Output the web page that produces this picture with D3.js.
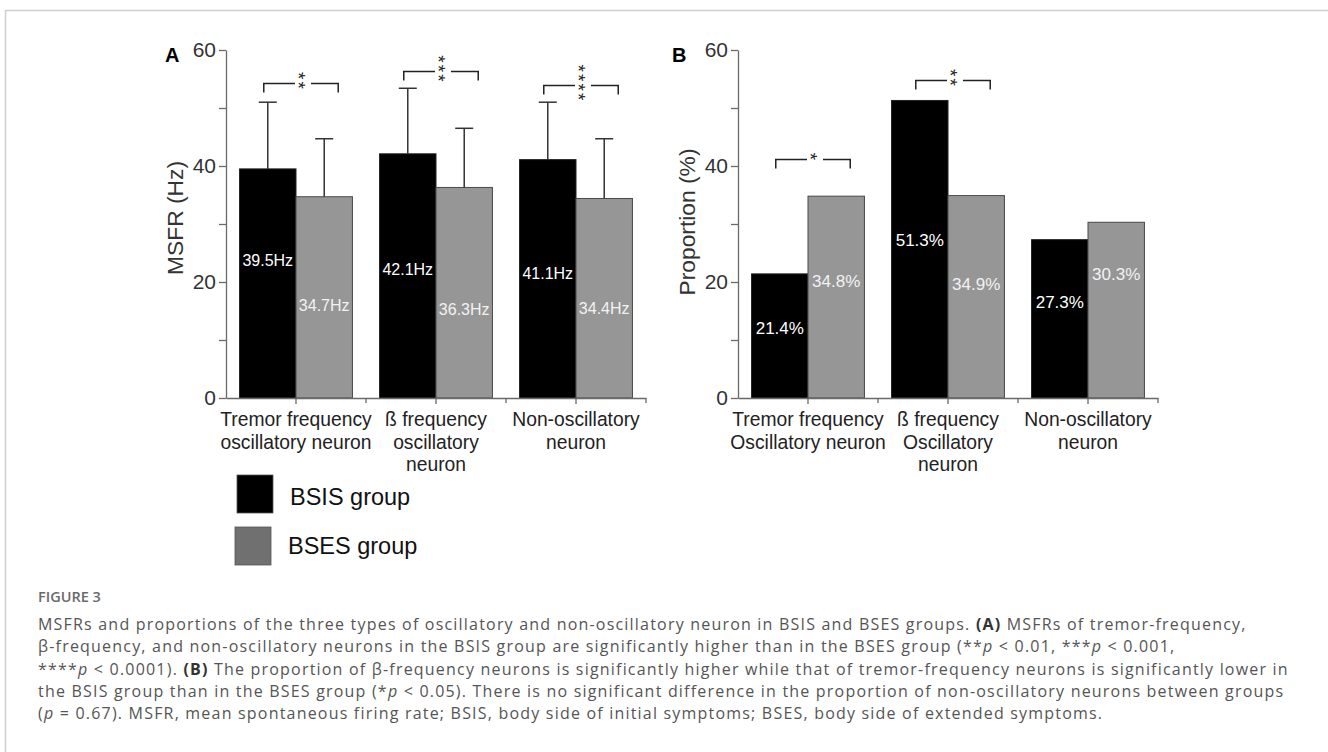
<!DOCTYPE html>
<html>
<head>
<meta charset="utf-8">
<script src="https://cdn.jsdelivr.net/npm/d3@7"></script>
<style>
  body { margin: 0; background: #fff; }
  svg { display: block; }
  .chart text { font-family: 'Liberation Sans', Arial, sans-serif; }
  .caption text { font-family: 'Open Sans', sans-serif; }
</style>
</head>
<body>
<div id="chart"></div>
<script>
// categories, two groups per category
let seriesNames = ['BSIS group', 'BSES group']
let catsA = [['Tremor frequency', 'oscillatory neuron'], ['ß frequency', 'oscillatory', 'neuron'], ['Non-oscillatory', 'neuron']]
let catsB = [['Tremor frequency', 'Oscillatory neuron'], ['ß frequency', 'Oscillatory', 'neuron'], ['Non-oscillatory', 'neuron']]

// panel A: MSFR (Hz), [BSIS, BSES] per category, with SD
let msfr = [[39.5, 34.7], [42.1, 36.3], [41.1, 34.4]]
let msfrSd = [[11.5, 10.0], [11.3, 10.2], [9.9, 10.3]]
let msfrLabels = [['39.5Hz', '34.7Hz'], ['42.1Hz', '36.3Hz'], ['41.1Hz', '34.4Hz']]
// where the value labels sit inside the bars (in axis units)
let msfrLabelAt = [[23.8, 15.9], [22.2, 15.2], [21.4, 15.5]]
// significance brackets: category, height (axis units), star count
let msfrSig = [[0, 54.3, 2], [1, 56.4, 3], [2, 54.0, 4]]

// panel B: proportion (%)
let prop = [[21.4, 34.8], [51.3, 34.9], [27.3, 30.3]]
let propLabels = [['21.4%', '34.8%'], ['51.3%', '34.9%'], ['27.3%', '30.3%']]
let propLabelAt = [[12.0, 20.1], [27.2, 19.6], [16.6, 21.3]]
let propSig = [[0, 41.2, 1], [1, 54.8, 2]]

let yTicks = [0, 10, 20, 30, 40, 50, 60]
let yTickLabels = [0, 20, 40, 60]

let svgWidth = 1328, svgHeight = 752
let fills = ['#000000', '#969696']
let strokes = ['#222', '#4a4a4a']
let legendFills = ['#000000', '#707070']

let svg = d3.select('#chart')
    .append('svg')
    .attr('width', svgWidth)
    .attr('height', svgHeight)

// page frame (left and top rule)
svg.append('path')
    .attr('d', `M5.5,${svgHeight} V10.5 H${svgWidth}`)
    .attr('fill', 'none')
    .attr('stroke', '#d0d0d0')
    .attr('stroke-width', 1.5)

let chartG = svg.append('g').attr('class', 'chart')

let y = d3.scaleLinear()
    .domain([0, 60])
    .range([398, 50])

function drawPanel(opts) {
    let g = chartG.append('g')
        .attr('transform', `translate(${opts.left},0)`)

    let idx = opts.values.map((d, i) => i)
    let x0 = d3.scaleBand()
        .domain(idx)
        .range([0, 420])
        .padding(0)
    let x1 = d3.scaleBand()
        .domain([0, 1])
        .range([0, x0.bandwidth()])
        .paddingInner(0)
        .paddingOuter(0.24)

    // bars
    let groups = g.selectAll('.grp')
        .data(opts.values)
        .enter().append('g')
        .attr('class', 'grp')
        .attr('transform', (d, i) => `translate(${x0(i)},0)`)

    groups.selectAll('rect')
        .data(d => d)
        .enter().append('rect')
        .attr('x', (d, j) => x1(j))
        .attr('y', d => y(d))
        .attr('width', x1.bandwidth())
        .attr('height', d => y(0) - y(d))
        .attr('fill', (d, j) => fills[j])
        .attr('stroke', (d, j) => strokes[j])
        .attr('stroke-width', 1)

    // error bars (upper only)
    if (opts.sd) {
        groups.each(function(d, i) {
            let gg = d3.select(this)
            d.forEach((v, j) => {
                let cx = x1(j) + x1.bandwidth() / 2
                let top = y(v + opts.sd[i][j])
                gg.append('line')
                    .attr('x1', cx).attr('x2', cx)
                    .attr('y1', y(v)).attr('y2', top)
                    .attr('stroke', '#333').attr('stroke-width', 1.5)
                gg.append('line')
                    .attr('x1', cx - 9).attr('x2', cx + 9)
                    .attr('y1', top).attr('y2', top)
                    .attr('stroke', '#333').attr('stroke-width', 1.5)
            })
        })
    }

    // value labels inside bars
    groups.each(function(d, i) {
        let gg = d3.select(this)
        d.forEach((v, j) => {
            gg.append('text')
                .attr('x', x1(j) + x1.bandwidth() / 2)
                .attr('y', y(opts.labelAt[i][j]))
                .attr('dy', '0.35em')
                .attr('text-anchor', 'middle')
                .attr('font-size', opts.labelSize)
                .attr('fill', j == 0 ? '#fff' : '#f2f2f2')
                .text(opts.labels[i][j])
        })
    })

    // significance brackets; the stars are one string turned on its side
    // so they stack vertically like in the figure
    opts.sig.forEach(s => {
        let cat = s[0], yy = Math.round(y(s[1])) + 0.5, n = s[2]
        let xa = x0(cat) + x1(0) + x1.bandwidth() / 2 - 4
        let xb = x0(cat) + x1(1) + x1.bandwidth() / 2 + 14
        let xs = (xa + xb) / 2 + 2
        let bg = g.append('g')
        bg.append('path')
            .attr('d', `M${xa},${yy + 9} V${yy} H${xs - 8} M${xs + 8},${yy} H${xb} V${yy + 9}`)
            .attr('fill', 'none')
            .attr('stroke', '#222')
            .attr('stroke-width', 1.5)
        bg.append('text')
            .attr('transform', `translate(${xs},${yy - 2}) rotate(90)`)
            .attr('text-anchor', 'middle')
            .attr('dy', '0.58em')
            .attr('font-size', 19)
            .attr('letter-spacing', 2.1)
            .attr('fill', '#222')
            .text('*'.repeat(n))
    })

    // y axis
    let yAxis = g.append('g')
        .attr('class', 'y-axis')
        .call(d3.axisLeft(y)
            .tickValues(yTicks)
            .tickSize(7)
            .tickSizeOuter(0)
            .tickPadding(3)
            .tickFormat(d => yTickLabels.includes(d) ? d : ''))
    yAxis.select('.domain').attr('stroke', '#6a6a6a').attr('stroke-width', 1.3)
    yAxis.selectAll('.tick line').attr('stroke', '#6a6a6a').attr('stroke-width', 1.3)
    yAxis.selectAll('.tick text')
        .attr('font-size', 21)
        .attr('fill', '#333')
        .attr('font-family', "'Liberation Sans', Arial, sans-serif")

    // x axis: ticks at pair centres plus category boundaries
    let xAxis = g.append('g')
        .attr('class', 'x-axis')
        .attr('transform', `translate(0,${y(0)})`)
        .call(d3.axisBottom(x0).tickSize(6).tickSizeOuter(0).tickFormat(''))
    xAxis.select('.domain').attr('stroke', '#6a6a6a').attr('stroke-width', 1.3)
    xAxis.selectAll('.tick line').attr('stroke', '#6a6a6a').attr('stroke-width', 1.3)
    idx.slice(1).concat([idx.length]).forEach(i => {
        let bx = i < idx.length ? x0(i) : x0.range()[1]
        xAxis.append('line')
            .attr('x1', bx).attr('x2', bx)
            .attr('y1', 0).attr('y2', 5)
            .attr('stroke', '#6a6a6a').attr('stroke-width', 1.3)
    })

    // multi-line category labels
    opts.cats.forEach((lines, i) => {
        let t = g.append('text')
            .attr('x', x0(i) + x0.bandwidth() / 2)
            .attr('y', 426)
            .attr('text-anchor', 'middle')
            .attr('font-size', 19.3)
            .attr('fill', '#222')
        lines.forEach((l, k) => {
            t.append('tspan')
                .attr('x', x0(i) + x0.bandwidth() / 2)
                .attr('dy', k == 0 ? 0 : 22.5)
                .text(l)
        })
    })

    // y axis title
    g.append('text')
        .attr('transform', `translate(${opts.titleX},${opts.titleY}) rotate(-90)`)
        .attr('dy', '0.35em')
        .attr('text-anchor', 'middle')
        .attr('font-size', 22.8)
        .attr('fill', '#333')
        .text(opts.title)

    // panel letter
    g.append('text')
        .attr('x', opts.letterX)
        .attr('y', 62)
        .attr('font-size', 20)
        .attr('font-weight', 'bold')
        .attr('fill', '#000')
        .text(opts.letter)
}

drawPanel({
    left: 226, values: msfr, sd: msfrSd, labels: msfrLabels, labelAt: msfrLabelAt,
    labelSize: 16, sig: msfrSig, cats: catsA, title: 'MSFR (Hz)',
    titleX: -51, titleY: 218, letter: 'A', letterX: -61
})
drawPanel({
    left: 738, values: prop, sd: null, labels: propLabels, labelAt: propLabelAt,
    labelSize: 17, sig: propSig, cats: catsB, title: 'Proportion (%)',
    titleX: -51, titleY: 222, letter: 'B', letterX: -66
})

// legend
let legend = chartG.append('g').attr('class', 'legend')
let legendKeys = legend.selectAll('.key')
    .data(seriesNames)
    .enter().append('g')
    .attr('class', 'key')
legendKeys.append('rect')
    .attr('x', (d, i) => 237 - i * 2)
    .attr('y', (d, i) => 475 + i * 52)
    .attr('width', 36)
    .attr('height', 38)
    .attr('fill', (d, i) => legendFills[i])
    .attr('stroke', '#555')
    .attr('stroke-width', 0.8)
legendKeys.append('text')
    .attr('x', (d, i) => 290 - i * 2)
    .attr('y', (d, i) => 505 + i * 49)
    .attr('font-size', 23.5)
    .attr('fill', '#111')
    .text(d => d)

// caption
let cap = svg.append('g').attr('class', 'caption')
cap.append('text')
    .attr('x', 38)
    .attr('y', 602)
    .attr('font-size', 14.5)
    .attr('font-weight', 600)
    .attr('fill', '#6a6a6a')
    .text('FIGURE 3')

// caption lines as runs: [text, style]
let captionLines = [
    [['MSFRs and proportions of the three types of oscillatory and non-oscillatory neuron in BSIS and BSES groups. '], ['(A)', 'b'], [' MSFRs of tremor-frequency,']],
    [['β-frequency, and non-oscillatory neurons in the BSIS group are significantly higher than in the BSES group (**'], ['p', 'i'], [' < 0.01, ***'], ['p', 'i'], [' < 0.001,']],
    [['****'], ['p', 'i'], [' < 0.0001). '], ['(B)', 'b'], [' The proportion of β-frequency neurons is significantly higher while that of tremor-frequency neurons is significantly lower in']],
    [['the BSIS group than in the BSES group (*'], ['p', 'i'], [' < 0.05). There is no significant difference in the proportion of non-oscillatory neurons between groups']],
    [['('], ['p', 'i'], [' = 0.67). MSFR, mean spontaneous firing rate; BSIS, body side of initial symptoms; BSES, body side of extended symptoms.']]
]
captionLines.forEach((runs, k) => {
    let t = cap.append('text')
        .attr('x', 38)
        .attr('y', 630 + k * 22.3)
        .attr('font-size', 16)
        .attr('letter-spacing', 1.2)
        .attr('fill', '#555')
    runs.forEach(r => {
        t.append('tspan')
            .attr('font-weight', r[1] == 'b' ? 700 : null)
            .attr('font-style', r[1] == 'i' ? 'italic' : null)
            .attr('fill', r[1] == 'b' ? '#333' : null)
            .text(r[0])
    })
})
</script>
</body>
</html>
